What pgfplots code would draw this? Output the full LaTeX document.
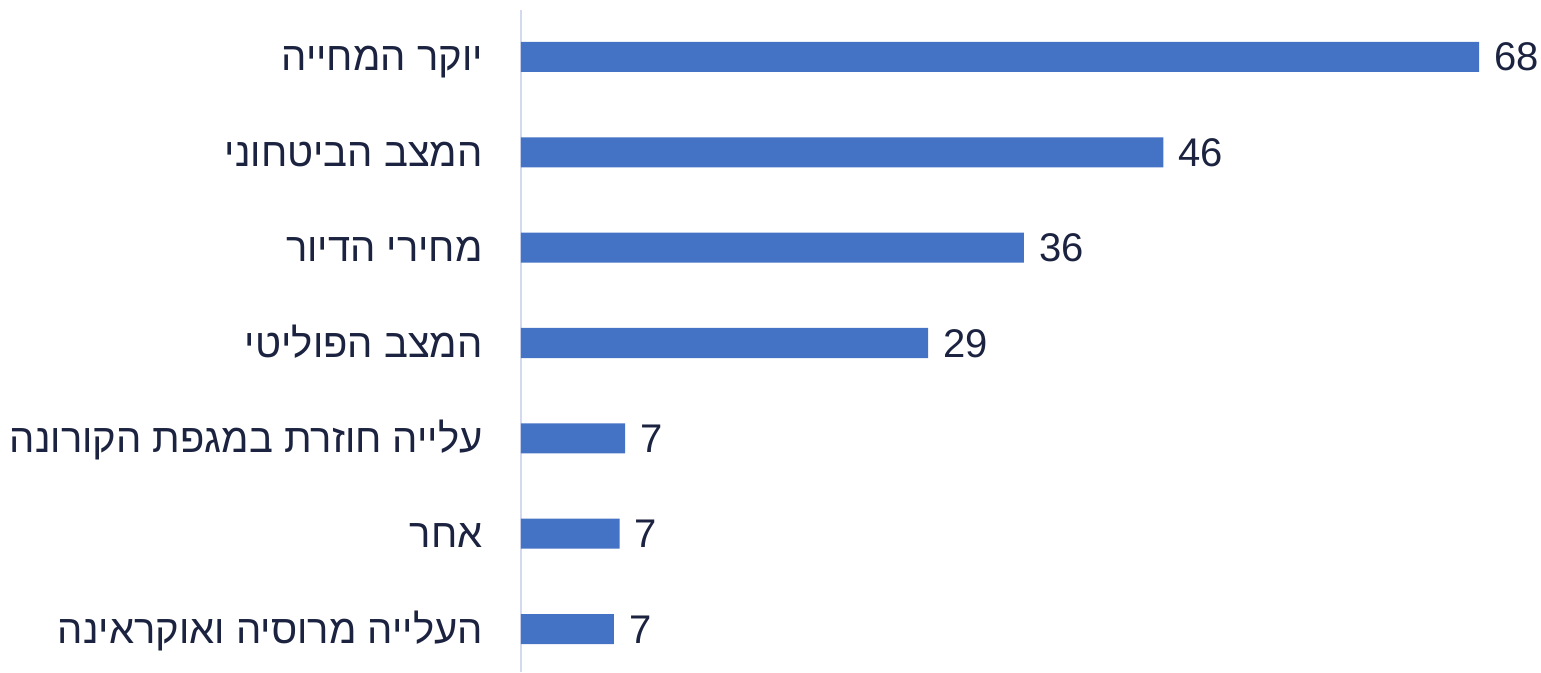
\documentclass[border=0pt]{standalone}
\usepackage{fontspec}
\setmainfont{Liberation Sans}
\newfontfamily\hebfont[Script=Hebrew]{Liberation Sans}
\TeXXeTstate=1
\usepackage{pgfplots}
\pgfplotsset{compat=1.18}
\definecolor{barblue}{HTML}{4472C4}
\definecolor{txt}{HTML}{1B2340}
\definecolor{axline}{HTML}{D3DAEE}
\begin{document}
\begin{tikzpicture}
\path[use as bounding box] (-521pt,0pt) rectangle (1020pt,672pt);
\begin{axis}[
  scale only axis, width=958pt, height=662pt,
  xbar, bar width=30pt,
  xmin=0, xmax=68, ymin=-0.451, ymax=6.493,
  clip=false,
  axis x line=none,
  axis y line*=left,
  y axis line style={draw=axline, line width=2pt, -},
  ytick={0,...,6}, major tick length=0pt,
  yticklabels={
    {\hebfont\beginR העלייה מרוסיה ואוקראינה\endR},
    {\hebfont\beginR אחר\endR},
    {\hebfont\beginR עלייה חוזרת במגפת הקורונה\endR},
    {\hebfont\beginR המצב הפוליטי\endR},
    {\hebfont\beginR מחירי הדיור\endR},
    {\hebfont\beginR המצב הביטחוני\endR},
    {\hebfont\beginR יוקר המחייה\endR}},
  yticklabel style={font=\fontsize{40}{46}\selectfont, text=txt, inner sep=0pt, anchor=base east, xshift=-38pt, yshift=-14pt},
  nodes near coords,
  point meta=x,
  nodes near coords style={font=\fontsize{40}{46}\selectfont, text=txt, anchor=base west, inner sep=0pt, xshift=15pt, yshift=-14pt,
    /pgf/number format/fixed, /pgf/number format/precision=0, /pgf/number format/assume math mode=true},
]
\addplot[fill=barblue, draw=none] coordinates {
  (6.6,0) (7.0,1) (7.4,2) (28.9,3) (35.7,4) (45.6,5) (68,6)};
\end{axis}
\end{tikzpicture}
\end{document}
